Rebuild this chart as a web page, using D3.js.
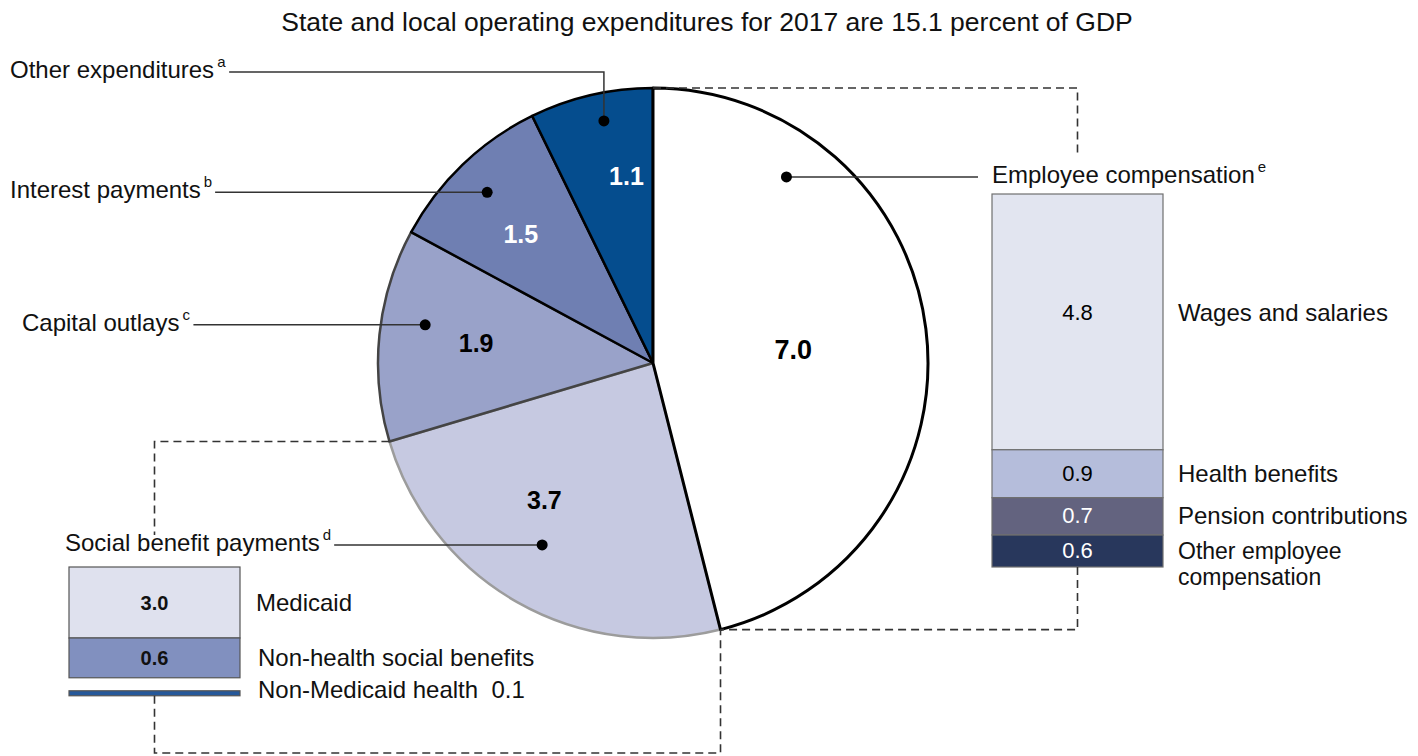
<!DOCTYPE html>
<html>
<head>
<meta charset="utf-8">
<script src="https://cdn.jsdelivr.net/npm/d3@7"></script>
<style>
  body { margin: 0; background: #fff; }
  svg { display: block; font-family: "Liberation Sans", Arial, sans-serif; }
</style>
</head>
<body>
<svg id="chart" width="1418" height="756"></svg>
<script>
// ---- data ----
const titleText = "State and local operating expenditures for 2017 are 15.1 percent of GDP";
const sliceNames = ["Employee compensation", "Social benefit payments", "Capital outlays", "Interest payments", "Other expenditures"];
const sliceNotes = ["e", "d", "c", "b", "a"];
const sliceValues = [7.0, 3.7, 1.9, 1.5, 1.1];
const compNames = ["Wages and salaries", "Health benefits", "Pension contributions", "Other employee\ncompensation"];
const compValues = [4.8, 0.9, 0.7, 0.6];
const socialNames = ["Medicaid", "Non-health social benefits", "Non-Medicaid health"];
const socialValues = [3.0, 0.6, 0.1];

// ---- layout ----
const cx = 653, cy = 363, R = 275;
const sliceFill = ["#ffffff", "#c6c9e1", "#99a2c9", "#6f7fb2", "#054d8e"];
const sliceStroke = ["#000", "#9c9c9c", "#444", "#000", "#000"];
const valueFill = ["#000", "#000", "#000", "#fff", "#fff"];
// t = share of the slice angle, r = distance from centre
const valuePos = [{t: .51, r: 141}, {t: .60, r: 175}, {t: .51, r: 178}, {t: .45, r: 185}, {t: .69, r: 189}];
const dotPos = [{t: .215, r: 229}, {t: .52, r: 213}, {t: .58, r: 231}, {t: .49, r: 238}, {t: .56, r: 247}];
// x of label start; y = fixed baseline (null: follow the dot)
const labelPos = [{x: 992, y: null}, {x: 65, y: null}, {x: 22, y: null}, {x: 10, y: null}, {x: 10, y: 78}];

const compBar = {x: 992, w: 171, top: 194, bottom: 567};
const compFill = ["#e2e5f0", "#b5bddb", "#63637f", "#28375c"];
const compText = ["#000", "#000", "#fff", "#fff"];
const socialBar = {x: 69, w: 171, top: 567, gap: 13};
const socialFill = ["#dfe1ee", "#8190bf", "#25589a"];

const svg = d3.select("#chart");

svg.append("text")
  .attr("x", 707).attr("y", 31)
  .attr("text-anchor", "middle")
  .attr("font-size", 26.5)
  .attr("fill", "#111")
  .text(titleText);

// ---- pie ----
const pie = d3.pie().sort(null).value((d) => d);
const arcs = pie(sliceValues);
const arc = d3.arc().innerRadius(0).outerRadius(R);
const pieG = svg.append("g").attr("transform", `translate(${cx},${cy})`);

const drawOrder = [1, 2, 3, 4, 0];
pieG.selectAll(".slice")
  .data(drawOrder.map((i) => arcs[i]))
  .join("path")
  .attr("class", "slice")
  .attr("d", arc)
  .attr("fill", (d) => sliceFill[d.index])
  .attr("stroke", (d) => sliceStroke[d.index])
  .attr("stroke-width", (d) => (d.index === 0 ? 3 : 2.5))
  .attr("stroke-linejoin", "round");

const polar = (d, p) => d3.pointRadial(d.startAngle + p.t * (d.endAngle - d.startAngle), p.r);

pieG.selectAll(".slice-value")
  .data(arcs)
  .join("text")
  .attr("class", "slice-value")
  .attr("transform", (d) => `translate(${polar(d, valuePos[d.index])})`)
  .attr("text-anchor", "middle")
  .attr("dy", "0.36em")
  .attr("font-weight", "bold")
  .attr("font-size", (d) => (d.index === 0 ? 27 : 25))
  .attr("fill", (d) => valueFill[d.index])
  .text((d) => d3.format(".1f")(d.data));

// leader dots + labels
const dots = arcs.map((d) => {
  const p = polar(d, dotPos[d.index]);
  return [cx + p[0], cy + p[1]];
});

const leaders = svg.append("g");
const labels = svg.append("g");

arcs.forEach((d, i) => {
  const lp = labelPos[i];
  const dot = dots[i];
  const baseline = lp.y != null ? lp.y : dot[1] + 6;
  const t = labels.append("text")
    .attr("x", lp.x).attr("y", baseline)
    .attr("font-size", 24)
    .attr("fill", "#111");
  t.append("tspan").text(sliceNames[i]);
  t.append("tspan")
    .attr("dx", 3).attr("dy", -11)
    .attr("font-size", 15)
    .text(sliceNotes[i]);

  let path;
  if (lp.x < dot[0]) {
    const bb = t.node().getBBox();
    path = `M${bb.x + bb.width + 3},${baseline - 6}H${dot[0]}V${dot[1]}`;
  } else {
    path = `M${dot[0]},${dot[1]}H${lp.x - 14}`;
  }
  leaders.append("path")
    .attr("d", path)
    .attr("fill", "none")
    .attr("stroke", "#333")
    .attr("stroke-width", 1.5);
  leaders.append("circle")
    .attr("cx", dot[0]).attr("cy", dot[1]).attr("r", 5.5)
    .attr("fill", "#000");
});

// ---- employee compensation bar ----
const compY = d3.scaleLinear()
  .domain([0, d3.sum(compValues)])
  .range([compBar.top, compBar.bottom]);
const compEnd = Array.from(d3.cumsum(compValues));
const compSeg = compValues.map((v, i) => ({v, i, y0: compY(compEnd[i] - v), y1: compY(compEnd[i])}));

const compG = svg.append("g");
compG.selectAll("rect")
  .data(compSeg)
  .join("rect")
  .attr("x", compBar.x).attr("width", compBar.w)
  .attr("y", (d) => d.y0).attr("height", (d) => d.y1 - d.y0)
  .attr("fill", (d) => compFill[d.i])
  .attr("stroke", "#6f6f6f").attr("stroke-width", 1.2);
compG.selectAll(".comp-value")
  .data(compSeg)
  .join("text")
  .attr("class", "comp-value")
  .attr("x", compBar.x + compBar.w / 2)
  .attr("y", (d) => (d.y0 + d.y1) / 2 + (d.i === 0 ? -2 : 7))
  .attr("text-anchor", "middle")
  .attr("font-size", 22)
  .attr("fill", (d) => compText[d.i])
  .text((d) => d3.format(".1f")(d.v));
compG.selectAll(".comp-name")
  .data(compSeg)
  .join("text")
  .attr("class", "comp-name")
  .attr("x", compBar.x + compBar.w + 15)
  .attr("y", (d) => (d.y0 + d.y1) / 2 + (d.i === 0 ? -1 : 8))
  .attr("font-size", (d) => (d.i === 3 ? 23 : 24))
  .attr("fill", "#111")
  .selectAll("tspan")
  .data((d) => compNames[d.i].split("\n"))
  .join("tspan")
  .attr("x", compBar.x + compBar.w + 15)
  .attr("dy", (d, j) => (j ? 26 : 0))
  .text((d) => d);

// ---- social benefit bar ----
const socialH = d3.scaleLog().domain([d3.min(socialValues), d3.max(socialValues)]).range([5, 71]);
let yy = socialBar.top;
const socialSeg = socialValues.map((v, i) => {
  if (i === 2) yy += socialBar.gap;
  const s = {v, i, y0: yy, y1: yy + socialH(v)};
  yy = s.y1;
  return s;
});

const socG = svg.append("g");
socG.selectAll("rect")
  .data(socialSeg)
  .join("rect")
  .attr("x", socialBar.x).attr("width", socialBar.w)
  .attr("y", (d) => d.y0).attr("height", (d) => d.y1 - d.y0)
  .attr("fill", (d) => socialFill[d.i])
  .attr("stroke", "#555").attr("stroke-width", 1.2);
socG.selectAll(".soc-value")
  .data(socialSeg.filter((d) => d.i < 2))
  .join("text")
  .attr("class", "soc-value")
  .attr("x", socialBar.x + socialBar.w / 2)
  .attr("y", (d) => (d.y0 + d.y1) / 2 + 7)
  .attr("text-anchor", "middle")
  .attr("font-weight", "bold")
  .attr("font-size", 20)
  .attr("fill", "#111")
  .text((d) => d3.format(".1f")(d.v));
socG.selectAll(".soc-name")
  .data(socialSeg)
  .join("text")
  .attr("class", "soc-name")
  .attr("x", (d) => socialBar.x + socialBar.w + (d.i ? 18 : 16))
  .attr("y", (d) => (d.y0 + d.y1) / 2 + (d.i === 2 ? 5 : 8))
  .attr("font-size", 24)
  .attr("fill", "#111")
  .style("white-space", "pre")
  .text((d) => (d.i === 2 ? `${socialNames[d.i]}  ${d3.format(".1f")(d.v)}` : socialNames[d.i]));

// ---- dashed connectors ----
const edge = (a) => {
  const p = d3.pointRadial(a, R);
  return [cx + p[0], cy + p[1]];
};
const pTop = edge(arcs[0].startAngle);
const pEmpEnd = edge(arcs[0].endAngle);
const pSocEnd = edge(arcs[1].endAngle);
const compMid = compBar.x + compBar.w / 2;
const socMid = socialBar.x + socialBar.w / 2;
const socBottom = socialSeg[2].y1;

const connectors = [
  `M${pTop[0]},${pTop[1]}H${compMid}V154`,
  `M${compMid},${compBar.bottom}V${pEmpEnd[1]}H${pEmpEnd[0]}`,
  `M${pSocEnd[0]},${pSocEnd[1]}H${socMid}V535`,
  `M${socMid},${socBottom}V753H${pEmpEnd[0]}V${pEmpEnd[1]}`,
];
svg.append("g")
  .selectAll("path")
  .data(connectors)
  .join("path")
  .attr("d", (d) => d)
  .attr("fill", "none")
  .attr("stroke", "#333")
  .attr("stroke-width", 1.6)
  .attr("stroke-dasharray", "8,5");
</script>
</body>
</html>
